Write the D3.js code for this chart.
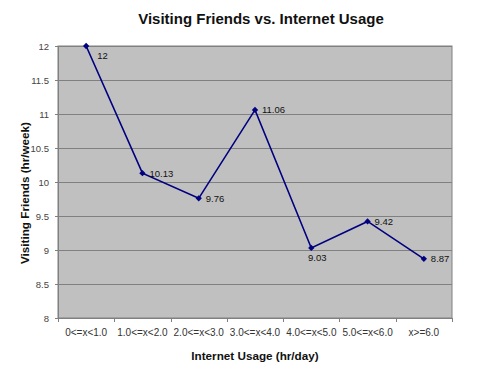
<!DOCTYPE html>
<html>
<head>
<meta charset="utf-8">
<script src="https://cdn.jsdelivr.net/npm/d3@7"></script>
<style>
  body { margin: 0; background: #fff; }
  text { font-family: "Liberation Sans", Arial, sans-serif; }
</style>
</head>
<body>
<script>
// chart data
const categories = ["0<=x<1.0", "1.0<=x<2.0", "2.0<=x<3.0", "3.0<=x<4.0", "4.0<=x<5.0", "5.0<=x<6.0", "x>=6.0"];
const visiting = [12, 10.13, 9.76, 11.06, 9.03, 9.42, 8.87];
const labelPos = ["below-right", "right", "right", "right", "below", "right", "right"];
const yTicks = [8, 8.5, 9, 9.5, 10, 10.5, 11, 11.5, 12];

const width = 502, height = 371;
const marginLeft = 58, marginRight = 50, marginTop = 46, marginBottom = 53;

const svg = d3.select("body").append("svg")
    .attr("width", width)
    .attr("height", height);

const x = d3.scaleBand()
    .domain(categories)
    .range([marginLeft, width - marginRight]);

const y = d3.scaleLinear()
    .domain([8, 12])
    .range([height - marginBottom, marginTop]);

// plot area background
svg.append("rect")
    .attr("x", marginLeft)
    .attr("y", marginTop)
    .attr("width", width - marginRight - marginLeft)
    .attr("height", height - marginBottom - marginTop)
    .attr("fill", "#c0c0c0")
    .attr("stroke", "#808080")
    .attr("stroke-width", 1);

// gridlines
svg.append("g")
    .selectAll("line")
    .data(yTicks)
    .join("line")
    .attr("x1", marginLeft)
    .attr("x2", width - marginRight)
    .attr("y1", d => Math.round(y(d)) + 0.5)
    .attr("y2", d => Math.round(y(d)) + 0.5)
    .attr("stroke", "#808080");

// y axis
const yAxis = svg.append("g")
    .attr("transform", `translate(${marginLeft},0)`)
    .call(d3.axisLeft(y).tickValues(yTicks).tickSize(3).tickPadding(6).tickFormat(d3.format("")));
yAxis.select(".domain").attr("stroke", "#808080");
yAxis.selectAll(".tick line").attr("stroke", "#808080");
yAxis.selectAll(".tick text").attr("font-size", 9.5).attr("fill", "#444")
    .style("font-family", "'Liberation Sans', Arial, sans-serif");

// x axis
const xAxis = svg.append("g")
    .attr("transform", `translate(0,${height - marginBottom})`)
    .call(d3.axisBottom(x).tickSize(0).tickPadding(11));
xAxis.select(".domain").attr("stroke", "#808080");
xAxis.selectAll(".tick text").attr("font-size", 10).attr("fill", "#333")
    .style("font-family", "'Liberation Sans', Arial, sans-serif");

// tick marks at category boundaries
svg.append("g")
    .selectAll("line")
    .data(d3.range(categories.length + 1))
    .join("line")
    .attr("x1", i => Math.round(marginLeft + i * x.step()) + 0.5)
    .attr("x2", i => Math.round(marginLeft + i * x.step()) + 0.5)
    .attr("y1", height - marginBottom)
    .attr("y2", height - marginBottom + 4)
    .attr("stroke", "#808080");

// line
const cx = (d, i) => x(categories[i]) + x.bandwidth() / 2;
svg.append("path")
    .datum(visiting)
    .attr("fill", "none")
    .attr("stroke", "#000080")
    .attr("stroke-width", 1.6)
    .attr("d", d3.line().x(cx).y(d => y(d)));

// markers (rotated squares)
svg.append("g")
    .selectAll("path")
    .data(visiting)
    .join("path")
    .attr("transform", (d, i) => `translate(${cx(d, i)},${y(d)}) rotate(45)`)
    .attr("d", d3.symbol(d3.symbolSquare, 20))
    .attr("fill", "#000080");

// value labels
svg.append("g")
    .selectAll("text")
    .data(visiting)
    .join("text")
    .attr("x", (d, i) => cx(d, i) + (labelPos[i] === "right" ? 7 : labelPos[i] === "below" ? 6 : 11))
    .attr("y", (d, i) => y(d) + (labelPos[i] === "right" ? 3.5 : 13))
    .attr("text-anchor", (d, i) => labelPos[i] === "below" ? "middle" : "start")
    .attr("font-size", 9.5)
    .attr("fill", "#111")
    .text(d => d);

// title
svg.append("text")
    .attr("x", 261)
    .attr("y", 24)
    .attr("text-anchor", "middle")
    .attr("font-size", 15)
    .attr("font-weight", "bold")
    .attr("fill", "#111")
    .text("Visiting Friends vs. Internet Usage");

// axis titles
svg.append("text")
    .attr("x", 255)
    .attr("y", 360)
    .attr("text-anchor", "middle")
    .attr("font-size", 11.7)
    .attr("font-weight", "bold")
    .attr("fill", "#111")
    .text("Internet Usage (hr/day)");

svg.append("text")
    .attr("transform", `translate(29,193) rotate(-90)`)
    .attr("text-anchor", "middle")
    .attr("font-size", 11.7)
    .attr("font-weight", "bold")
    .attr("fill", "#111")
    .text("Visiting Friends (hr/week)");
</script>
</body>
</html>
